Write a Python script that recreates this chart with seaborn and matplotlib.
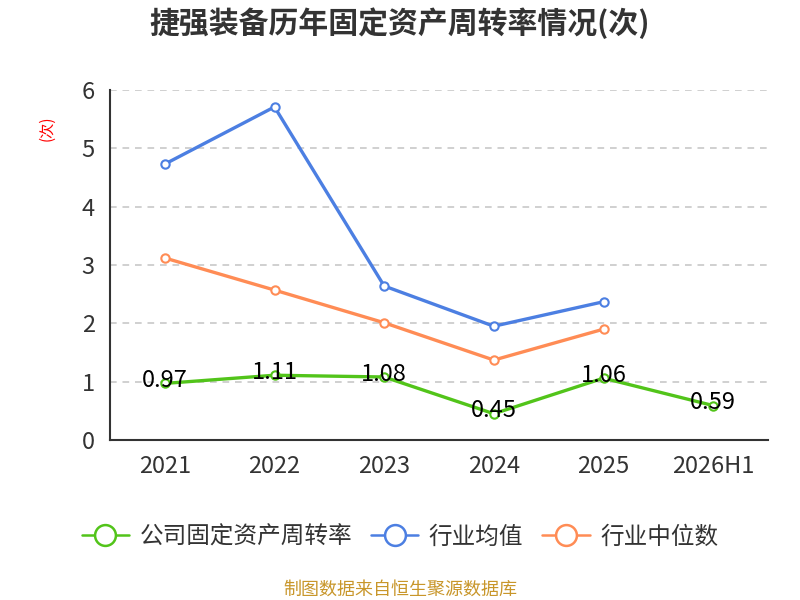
import matplotlib
matplotlib.use("Agg")
import matplotlib.pyplot as plt
import seaborn as sns
import pandas as pd
import numpy as np
from matplotlib.lines import Line2D

years = ["2021", "2022", "2023", "2024", "2025", "2026H1"]
company = [0.97, 1.11, 1.08, 0.45, 1.06, 0.59]
industry_avg = [4.73, 5.71, 2.64, 1.95, 2.37, np.nan]
industry_median = [3.12, 2.57, 2.01, 1.37, 1.90, np.nan]

series_names = ["公司固定资产周转率", "行业均值", "行业中位数"]
colors = ["#52c41a", "#4c7fe2", "#ff8c55"]

sns.set_theme(style="white")
plt.rcParams['font.family'] = ['Noto Sans CJK SC', 'DejaVu Sans']

fig = plt.figure(figsize=(8, 6), dpi=100)
ax = fig.add_axes([0.1375, 0.2667, 0.8225, 0.5833])

pos = np.arange(len(years))
df = pd.DataFrame({"pos": pos, "company": company,
                   "avg": industry_avg, "median": industry_median})

for col, c in zip(["company", "avg", "median"], colors):
    sub = df[["pos", col]].dropna()
    sns.lineplot(data=sub, x="pos", y=col, ax=ax, color=c, linewidth=2.4,
                 marker="o", markersize=6, markerfacecolor="white",
                 markeredgecolor=c, markeredgewidth=1.5, zorder=3)

for x, v in zip(pos, company):
    ax.annotate(f"{v:.2f}", (x, v), xytext=(0, 2), textcoords="offset points",
                ha="center", va="center", fontsize=17, color="black", zorder=4)

ax.set_xlim(-0.5, len(years) - 0.5)
ax.set_ylim(0, 6)
ax.set_yticks(range(0, 7))
ax.set_xticks(pos)
ax.set_xticklabels(years)
ax.set_xticks(np.arange(-0.5, len(years)), minor=True)
ax.tick_params(axis="x", which="major", length=0, labelsize=17, colors="#333333", pad=11)
ax.tick_params(axis="x", which="minor", length=7, width=1.5, color="#333333")
ax.tick_params(axis="y", which="major", length=7, width=1.5, color="#333333",
               labelsize=17, labelcolor="#333333", pad=4)
ax.set_xlabel("")
ax.set_ylabel("")
for s in ["top", "right"]:
    ax.spines[s].set_visible(False)
for s in ["left", "bottom"]:
    ax.spines[s].set_color("#333333")
    ax.spines[s].set_linewidth(1.5)
for y in range(1, 7):
    ax.axhline(y, color="#c8c8c8", linestyle=(0, (4, 3.5)), linewidth=1.2, zorder=1)

fig.text(0.5, 0.962, "捷强装备历年固定资产周转率情况(次)", ha="center", va="center",
         fontsize=21.5, fontweight="bold", color="#333333")
fig.text(0.059, 0.787, "(次)", rotation=90, ha="center", va="center",
         fontsize=11, color="red")

handles = [Line2D([0], [0], color=c, linewidth=1.8, marker="o", markersize=15,
                  markerfacecolor="white", markeredgecolor=c, markeredgewidth=1.8)
           for c in colors]
fig.legend(handles, series_names, loc="center", bbox_to_anchor=(0.5, 0.105),
           ncol=3, frameon=False, fontsize=17, handlelength=2.0,
           columnspacing=0.8, handletextpad=0.45, labelcolor="#333333")

fig.text(0.5, 0.017, "制图数据来自恒生聚源数据库", ha="center", va="center",
         fontsize=13, color="#c8962a")

fig.savefig("out.png", dpi=100)
